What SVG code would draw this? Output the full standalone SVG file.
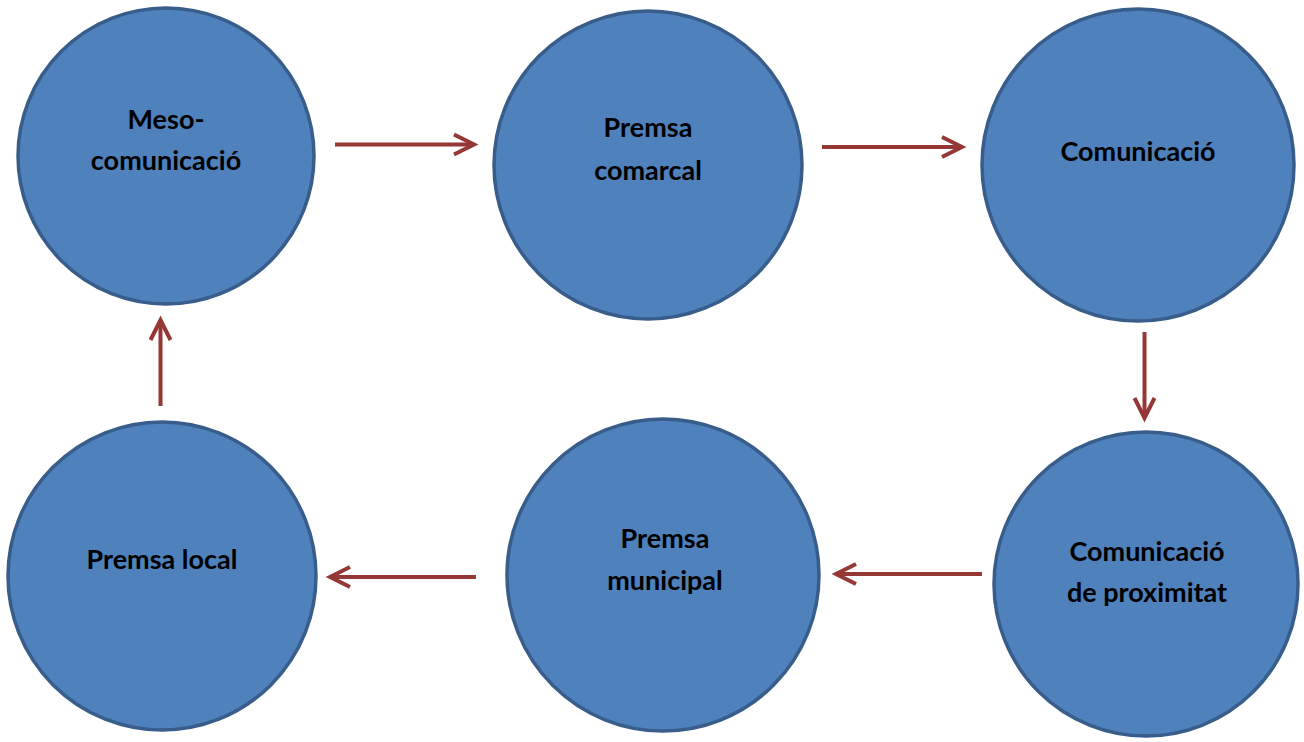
<svg xmlns="http://www.w3.org/2000/svg" width="1304" height="742" viewBox="0 0 1304 742">
  <style>
    .node { fill: #4F81BD; stroke: #385D8A; stroke-width: 3.5; }
    .lbl { font-family: Lato, "Open Sans", "Liberation Sans", sans-serif; font-weight: bold; font-size: 27px; fill: #000000; text-anchor: middle; }
    .conn { stroke: #953735; stroke-width: 4; fill: none; }
  </style>
  <defs>
    <marker id="arr" markerUnits="userSpaceOnUse" markerWidth="40" markerHeight="40" viewBox="-30 -20 40 40" refX="0" refY="0" orient="auto" overflow="visible">
      <path d="M -20 -10 L 0 0 L -20 10" fill="none" stroke="#953735" stroke-width="4" stroke-linejoin="miter"/>
    </marker>
  </defs>
  <rect width="1304" height="742" fill="#FFFFFF"/>
  <g id="node-meso">
    <circle class="node" cx="166" cy="156" r="148"/>
    <text class="lbl" x="166" y="129">Meso-</text>
    <text class="lbl" x="166" y="170">comunicació</text>
  </g>
  <g id="node-comarcal">
    <circle class="node" cx="648" cy="165" r="154"/>
    <text class="lbl" x="648" y="137">Premsa</text>
    <text class="lbl" x="648" y="180">comarcal</text>
  </g>
  <g id="node-comunicacio">
    <circle class="node" cx="1138" cy="165" r="156"/>
    <text class="lbl" x="1138" y="161">Comunicació</text>
  </g>
  <g id="node-proximitat">
    <circle class="node" cx="1146" cy="584" r="152"/>
    <text class="lbl" x="1147" y="561">Comunicació</text>
    <text class="lbl" x="1147" y="602">de proximitat</text>
  </g>
  <g id="node-municipal">
    <circle class="node" cx="663" cy="575" r="156"/>
    <text class="lbl" x="665" y="548">Premsa</text>
    <text class="lbl" x="665" y="590">municipal</text>
  </g>
  <g id="node-local">
    <circle class="node" cx="162" cy="576" r="154"/>
    <text class="lbl" x="162" y="569">Premsa local</text>
  </g>
  <g id="connectors">
    <line class="conn" x1="335" y1="144.5" x2="474" y2="144.5" marker-end="url(#arr)"/>
    <line class="conn" x1="822" y1="147" x2="962" y2="147" marker-end="url(#arr)"/>
    <line class="conn" x1="1144.5" y1="332" x2="1144.5" y2="418" marker-end="url(#arr)"/>
    <line class="conn" x1="982" y1="574" x2="836" y2="574" marker-end="url(#arr)"/>
    <line class="conn" x1="476" y1="577" x2="330" y2="577" marker-end="url(#arr)"/>
    <line class="conn" x1="160.5" y1="406" x2="160.5" y2="320" marker-end="url(#arr)"/>
  </g>
</svg>
